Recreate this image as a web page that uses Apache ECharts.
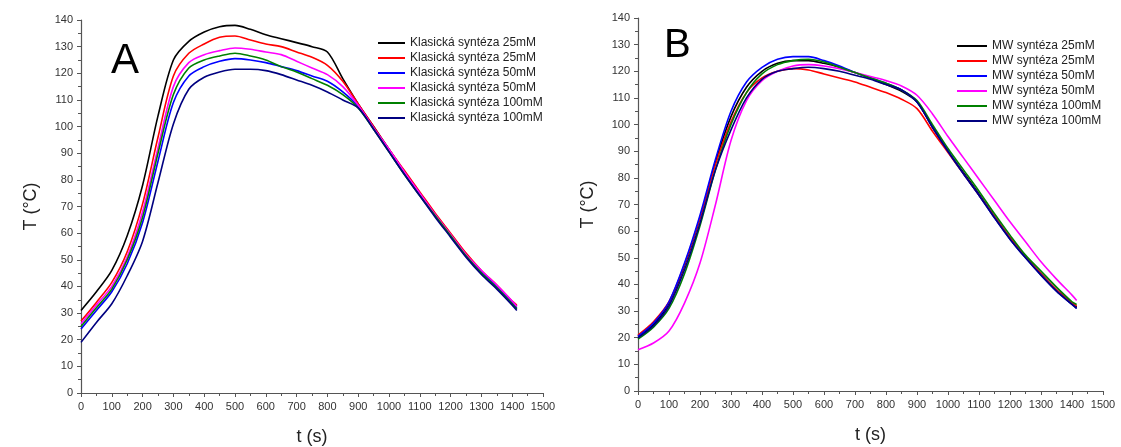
<!DOCTYPE html>
<html>
<head>
<meta charset="UTF-8">
<title>Teplotní průběh syntézy</title>
<script src="https://cdn.jsdelivr.net/npm/echarts@6/dist/echarts.min.js"></script>
<style>
  html, body { margin: 0; padding: 0; background: #fff; }
  #chart { width: 1121px; height: 447px; }
</style>
</head>
<body>
<div id="chart"></div>
<script>
// cas (s) - spolecna osa pro vsechny krivky
var time = [0, 50, 100, 150, 200, 250, 300, 350, 400, 450, 500, 550, 600, 650, 700, 750, 800, 850, 900, 950, 1000, 1050, 1100, 1150, 1200, 1250, 1300, 1350, 1400, 1415];

// A - klasicka synteza
var klas25a  = [31, 38, 46, 59, 78, 104, 125, 132, 135.5, 137.5, 138, 136.5, 134.5, 133, 131.5, 130, 128, 118, 108.5, 100, 91.5, 83, 75, 67, 59.5, 52, 45.5, 40, 34, 32.5];
var klas25b  = [27, 34, 41.5, 53, 71, 96, 119, 127.5, 131, 133.5, 134, 132.5, 131, 130, 128, 126, 123, 117, 108.5, 100, 91.5, 83.5, 75.5, 67.5, 60, 52.5, 46, 40.5, 34.5, 33];
var klas50a  = [24, 31, 38, 48.5, 64, 87, 109, 119, 122.5, 124.5, 125.5, 125, 124, 122.5, 121, 119, 117, 113, 107.5, 99.5, 91, 82.5, 74.5, 66.5, 59, 51.5, 45.5, 40, 34, 32];
var klas50b  = [26, 33, 40, 51, 68, 92, 115, 124, 127, 128.5, 129.5, 129, 128, 127, 124.5, 122, 119.5, 115, 108, 99.5, 91.5, 83, 75, 67, 59.5, 52, 46, 40.5, 34.5, 32.5];
var klas100a = [25, 32, 39, 50, 66, 90, 112, 122, 125, 126.5, 127.5, 126.5, 125, 122.5, 120.5, 118, 115.5, 112, 107, 99, 90.5, 82, 74, 66.5, 59, 51.5, 45, 39.5, 33.5, 31.5];
var klas100b = [19, 26.5, 33.5, 44, 57, 79, 101, 114, 118.5, 120.5, 121.5, 121.5, 121, 119.5, 117.5, 115.5, 113, 110, 107, 99, 90.5, 82, 74, 66, 58.5, 51, 44.5, 39, 33, 31];

// B - MW synteza
var mw25a  = [20.5, 25, 33, 47, 65, 86, 103, 114, 120, 123, 124, 124, 123, 121.5, 119.5, 117.5, 115, 112.5, 108.5, 99, 90, 82, 74, 65.5, 57.5, 50.5, 44, 38, 33, 31.5];
var mw25b  = [21, 26, 33.5, 47.5, 65, 85, 101, 112, 117.5, 120, 121, 120.5, 119, 117.5, 116, 114, 112, 109.5, 106, 97.5, 89.5, 81.5, 73.5, 65.5, 57.5, 50.5, 44, 38, 33, 32];
var mw50a  = [20.5, 25.5, 33.5, 48, 66, 87, 105, 116, 121.5, 124.5, 125.5, 125.5, 124, 122, 119.5, 117.5, 115.5, 113, 108.5, 99, 90, 81.5, 73.5, 65, 57, 50, 43.5, 37.5, 32.5, 31];
var mw50b  = [15.5, 18, 22.5, 33, 48, 70, 94, 109, 116.5, 120, 122, 122.5, 122, 121, 119.5, 118, 116.5, 114.5, 111, 104, 95.5, 87.5, 79.5, 71.5, 63.5, 56, 48.5, 42, 36, 34];
var mw100a = [19.5, 24, 31, 44, 62, 83, 100, 112, 119, 122.5, 124, 124.5, 123.5, 121.5, 119.5, 117.5, 115.5, 113, 109, 100, 91, 83, 75, 66.5, 58.5, 51, 45, 39, 33.5, 32.5];
var mw100b = [20, 24.5, 32, 45.5, 63, 83, 98, 110, 117, 120, 121, 121.5, 121, 120, 118.5, 117, 115, 113, 108.5, 99, 90, 81.5, 73.5, 65, 57, 50, 43.5, 37.5, 32.5, 31];

// nazvy (druha kopie s mezerou, aby legenda rozlisila stejne popisky)
var namesA = ['Klasická syntéza 25mM', 'Klasická syntéza 25mM ', 'Klasická syntéza 50mM', 'Klasická syntéza 50mM ', 'Klasická syntéza 100mM', 'Klasická syntéza 100mM '];
var namesB = ['MW syntéza 25mM', 'MW syntéza 25mM ', 'MW syntéza 50mM', 'MW syntéza 50mM ', 'MW syntéza 100mM', 'MW syntéza 100mM '];
var colors = ['#000000', '#ff0000', '#0000ff', '#ff00ff', '#008000', '#000080'];

var dataA = [klas25a, klas25b, klas50a, klas50b, klas100a, klas100b];
var dataB = [mw25a, mw25b, mw50a, mw50b, mw100a, mw100b];

var font = 'Liberation Sans, Arial, sans-serif';

function pairs(vals) {
  return time.map(function (t, i) { return [t, vals[i]]; });
}

function xAxis(gridIndex) {
  return {
    type: 'value', gridIndex: gridIndex, min: 0, max: 1500, interval: 100,
    name: 't (s)', nameLocation: 'middle', nameGap: 35,
    nameTextStyle: { fontSize: 18, color: '#222', fontFamily: font },
    axisLine: { lineStyle: { color: '#555', width: 1.2 } },
    axisTick: { length: 4, lineStyle: { color: '#555' } },
    minorTick: { show: true, splitNumber: 2, length: 3, lineStyle: { color: '#555' } },
    axisLabel: { fontSize: 11, color: '#333', fontFamily: font, margin: 8,
      formatter: function (v) { return String(v); } },
    splitLine: { show: false }
  };
}

function yAxis(gridIndex) {
  return {
    type: 'value', gridIndex: gridIndex, min: 0, max: 140, interval: 10,
    name: 'T (°C)', nameLocation: 'middle', nameGap: 41,
    nameTextStyle: { fontSize: 18, color: '#222', fontFamily: font },
    axisLine: { show: true, lineStyle: { color: '#555', width: 1.2 } },
    axisTick: { show: true, length: 4, lineStyle: { color: '#555' } },
    minorTick: { show: true, splitNumber: 2, length: 3, lineStyle: { color: '#555' } },
    axisLabel: { fontSize: 11, color: '#333', fontFamily: font, margin: 8 },
    splitLine: { show: false }
  };
}

function legend(names, left, top, width) {
  return {
    orient: 'vertical', left: left, top: top, data: names, padding: 0,
    icon: 'rect', itemWidth: width, itemHeight: 2, itemGap: 1,
    textStyle: { fontSize: 12, lineHeight: 14, color: '#222', fontFamily: font }
  };
}

var series = [];
dataA.forEach(function (d, i) {
  series.push({
    name: namesA[i], type: 'line', xAxisIndex: 0, yAxisIndex: 0,
    data: pairs(d), showSymbol: false, symbol: 'none', animation: false,
    smooth: 0.3,
    lineStyle: { width: 1.6, color: colors[i] }, itemStyle: { color: colors[i] }
  });
});
dataB.forEach(function (d, i) {
  series.push({
    name: namesB[i], type: 'line', xAxisIndex: 1, yAxisIndex: 1,
    data: pairs(d), showSymbol: false, symbol: 'none', animation: false,
    smooth: 0.3,
    lineStyle: { width: 1.6, color: colors[i] }, itemStyle: { color: colors[i] }
  });
});

var chart = echarts.init(document.getElementById('chart'));
chart.setOption({
  backgroundColor: '#fff',
  animation: false,
  grid: [
    { left: 81, right: 578, top: 20, bottom: 54, outerBoundsMode: 'none' },
    { left: 638, right: 18, top: 18, bottom: 56, outerBoundsMode: 'none' }
  ],
  xAxis: [xAxis(0), xAxis(1)],
  yAxis: [yAxis(0), yAxis(1)],
  legend: [legend(namesA, 378, 36, 27), legend(namesB, 957, 39, 30)],
  graphic: [
    { type: 'text', left: 111, top: 40, style: { text: 'A', fontSize: 42, fill: '#000', fontFamily: font } },
    { type: 'text', left: 664, top: 26, style: { text: 'B', fontSize: 40, fill: '#000', fontFamily: font } }
  ],
  series: series
});
</script>
</body>
</html>
